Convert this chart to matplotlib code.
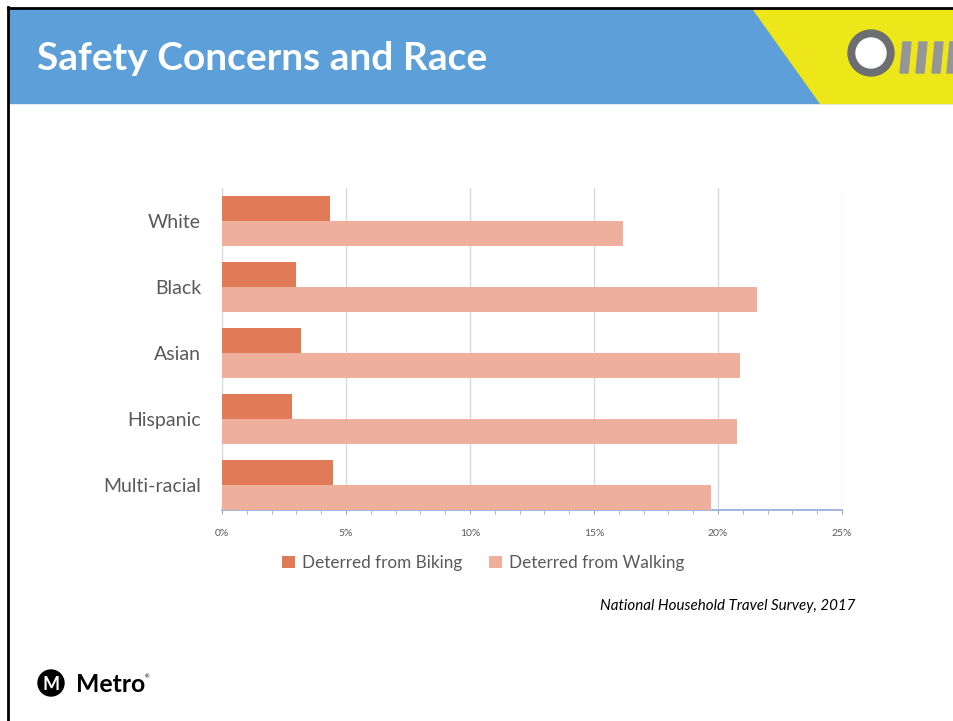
import matplotlib
matplotlib.use("Agg")
import matplotlib.pyplot as plt
from matplotlib.patches import Rectangle, Polygon, Circle
import numpy as np

plt.rcParams['font.family'] = ['Lato', 'DejaVu Sans']

# данные с графика
categories = ['White', 'Black', 'Asian', 'Hispanic', 'Multi-racial']
biking = [4.35, 2.98, 3.19, 2.82, 4.48]
walking = [16.17, 21.57, 20.89, 20.77, 19.72]
series_names = ['Deterred from Biking', 'Deterred from Walking']
xticks = [0, 5, 10, 15, 20, 25]

c_bike = '#E07A57'
c_walk = '#EEB09D'

W, H = 954, 721
fig = plt.figure(figsize=(W / 100, H / 100), dpi=100)

# фон слайда: рамка, шапка, логотипы (в пикселях)
bg = fig.add_axes([0, 0, 1, 1])
bg.set_xlim(0, W)
bg.set_ylim(H, 0)
bg.axis('off')
bg.add_patch(Rectangle((9, 9), W - 9, 94, color='#5d9fd8', zorder=1))
bg.add_patch(Polygon([(753, 9), (W, 9), (W, 103), (820, 103)], closed=True,
                     color='#EDE619', zorder=2))
bg.plot([8, W], [7.5, 7.5], color='black', lw=2, zorder=5)
bg.plot([8, 8], [7, H], color='black', lw=2, zorder=5)
bg.text(37, 58, 'Safety Concerns and Race', color='white', fontsize=28,
        fontweight='bold', va='center', ha='left', zorder=3)
bg.add_patch(Circle((871, 53), 23, color='#6d6e71', zorder=3))
bg.add_patch(Circle((871, 53), 15, color='white', zorder=4))
for x0 in [901, 917, 933, 948]:
    bg.add_patch(Polygon([(x0 - 1, 73), (x0 + 7, 73), (x0 + 10, 42), (x0 + 2, 42)],
                         closed=True, color='#959698', zorder=3))
bg.add_patch(Circle((51, 683), 13, color='black', zorder=3))
bg.text(51, 684, 'M', color='white', fontsize=13, fontweight='bold',
        ha='center', va='center', zorder=4)
bg.text(76, 684, 'Metro', color='black', fontsize=17.8, fontweight='bold',
        ha='left', va='center', zorder=3)
bg.text(145, 677, '®', color='black', fontsize=4, ha='left', va='center')
bg.text(855, 606, 'National Household Travel Survey, 2017', fontsize=10.9,
        style='italic', ha='right', va='center', color='black')

# график
ax = fig.add_axes([222 / W, 1 - 510 / H, (842 - 222) / W, (510 - 188) / H])
y = np.arange(len(categories))
h = 0.38
ax.barh(y - h / 2, biking, height=h, color=c_bike, label=series_names[0], zorder=3)
ax.barh(y + h / 2, walking, height=h, color=c_walk, label=series_names[1], zorder=3)
ax.set_ylim(len(categories) - 1 + 0.385, -0.5)
ax.set_xlim(0, 25)
ax.set_yticks(y)
ax.set_yticklabels(categories, fontsize=14, color='#595959')
ax.set_xticks(xticks)
ax.set_xticklabels([f'{t}%' for t in xticks], fontsize=7.5, color='#595959')
ax.set_xticks(np.arange(0, 26, 1), minor=True)
ax.tick_params(axis='y', length=0, pad=15)
ax.tick_params(axis='x', which='both', direction='out', length=3, color='#8faadc', pad=11)
ax.grid(axis='x', color='#d9d9d9', lw=1, zorder=0)
for s in ['top', 'right']:
    ax.spines[s].set_visible(False)
ax.spines['left'].set_color('#d9d9d9')
ax.spines['bottom'].set_color('#8faadc')
ax.spines['bottom'].set_linewidth(1.2)

ax.legend(loc='center', bbox_to_anchor=(483 / W, 1 - 563 / H), bbox_transform=fig.transFigure,
          ncol=2, frameon=False, fontsize=12.3, handlelength=0.75, handleheight=0.75,
          columnspacing=1.6, handletextpad=0.4, labelcolor='#595959')

fig.savefig('out.png', dpi=100)
